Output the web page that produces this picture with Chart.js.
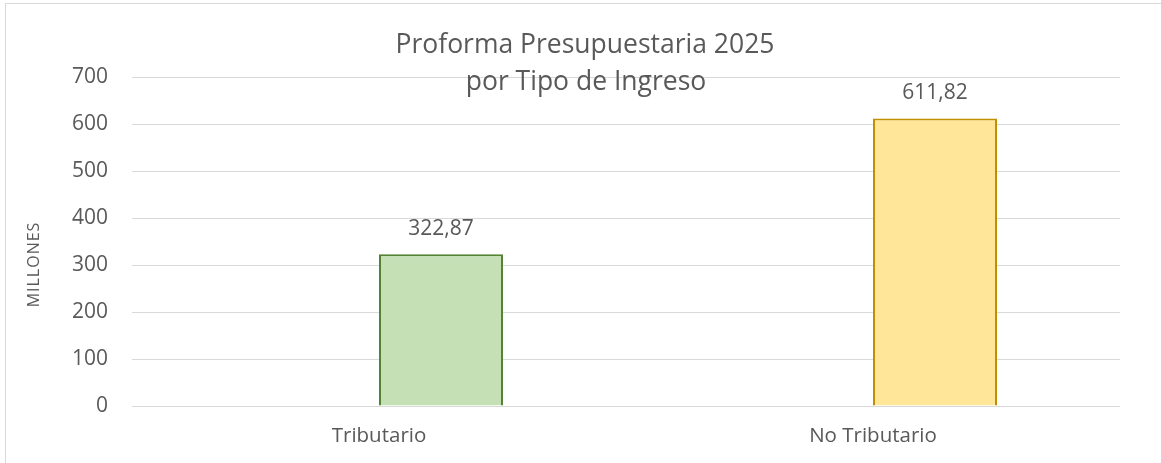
<!DOCTYPE html>
<html>
<head>
<meta charset="utf-8">
<script src="https://cdn.jsdelivr.net/npm/chart.js@4"></script>
<style>
  html, body { margin: 0; padding: 0; background: #fff; overflow: hidden; }
  #wrap { position: relative; width: 1161px; height: 463px; }
  #frame { position: absolute; left: 5px; top: 3px; width: 1200px; height: 500px; border: 1px solid #d9d9d9; box-sizing: border-box; pointer-events: none; }
  canvas { position: absolute; left: 0; top: 0; }
</style>
</head>
<body>
<div id="wrap">
  <canvas id="c" width="1161" height="463"></canvas>
  <div id="frame"></div>
</div>
<script>
const titleLines = ["Proforma Presupuestaria 2025", "por Tipo de Ingreso"];
const categories = ["Tributario", "No Tributario"];
const values = [322.87, 611.82];
const valueLabels = ["322,87", "611,82"];
const yAxisTitle = "MILLONES";
const yTicks = [0, 100, 200, 300, 400, 500, 600, 700];
const fillColors = ["#C5E0B4", "#FFE699"];
const borderColors = ["#548235", "#BF9000"];

const FONT = "'Open Sans', 'DejaVu Sans', sans-serif";
const TEXT = "#595959";

const titlePlugin = {
  id: 'twoLineTitle',
  afterDraw(chart) {
    const ctx = chart.ctx;
    ctx.save();
    ctx.fillStyle = TEXT;
    ctx.font = "26.5px " + FONT;
    ctx.textAlign = "center";
    ctx.textBaseline = "middle";
    ctx.fillText(titleLines[0], 585, 45);
    ctx.fillText(titleLines[1], 586, 82);
    // y axis title, rotated
    ctx.font = "16px " + FONT;
    try { ctx.letterSpacing = "1px"; } catch (e) {}
    ctx.translate(34.5, 265);
    ctx.rotate(-Math.PI / 2);
    ctx.fillText(yAxisTitle, 0.5, 0);
    ctx.restore();
  }
};

const labelPlugin = {
  id: 'valueLabels',
  afterDatasetsDraw(chart) {
    const ctx = chart.ctx;
    const meta = chart.getDatasetMeta(1);
    ctx.save();
    ctx.fillStyle = TEXT;
    ctx.font = "21px " + FONT;
    ctx.textAlign = "center";
    ctx.textBaseline = "middle";
    meta.data.forEach((bar, i) => {
      ctx.fillText(valueLabels[i], bar.x, bar.y - 25);
    });
    ctx.restore();
  }
};

new Chart(document.getElementById('c'), {
  type: 'bar',
  data: {
    labels: categories,
    datasets: [
      { label: 'spacer', data: categories.map(() => null) },
      {
        label: 'Ingreso',
        data: values,
        backgroundColor: fillColors,
        borderColor: borderColors,
        borderWidth: 2,
        borderSkipped: 'start'
      }
    ]
  },
  options: {
    responsive: false,
    animation: false,
    devicePixelRatio: 1,
    categoryPercentage: 0.502,
    barPercentage: 1,
    layout: { padding: { left: 0, right: 41, top: 77, bottom: 0 } },
    plugins: { legend: { display: false }, tooltip: { enabled: false }, title: { display: false } },
    scales: {
      x: {
        grid: { display: false, drawTicks: false },
        border: { display: false },
        ticks: { color: TEXT, font: { family: FONT, size: 20.5 }, padding: 18 },
        afterFit(s) { s.height = 57; }
      },
      y: {
        min: 0, max: 700,
        afterBuildTicks(s) { s.ticks = yTicks.map(v => ({ value: v })); },
        grid: { color: "#D9D9D9", lineWidth: 1, drawTicks: false },
        border: { display: false },
        ticks: { color: TEXT, font: { family: FONT, size: 21 }, padding: 24 },
        title: { display: false },
        afterFit(s) { s.width = 132; }
      }
    }
  },
  plugins: [titlePlugin, labelPlugin]
});
</script>
</body>
</html>
